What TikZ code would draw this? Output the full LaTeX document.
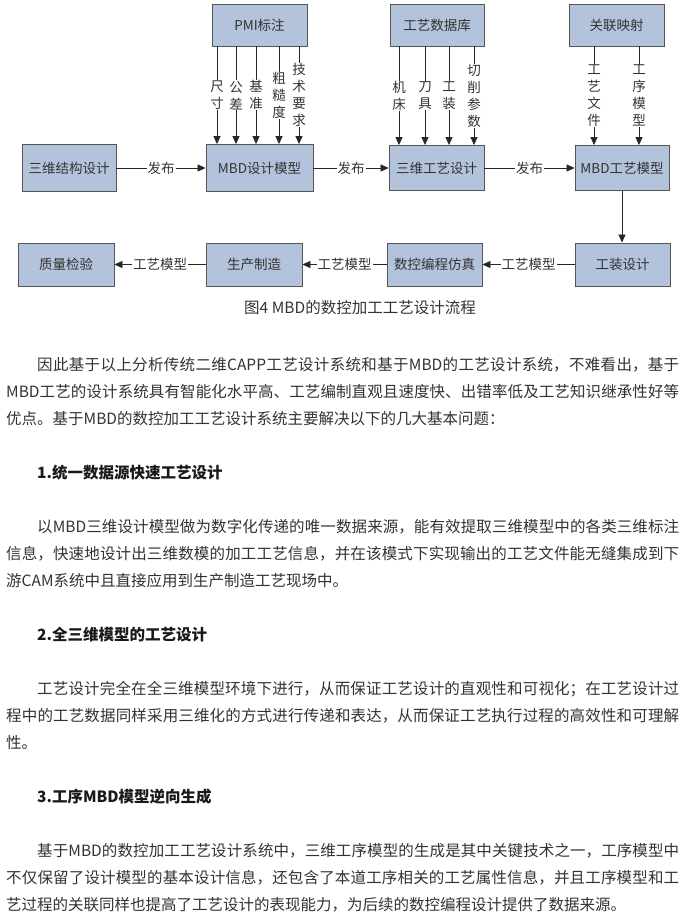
\documentclass[tikz,border=0pt]{standalone}
\usepackage{fontspec}
\setmainfont{Noto Sans CJK SC}
\usepackage{tikz}
\usetikzlibrary{arrows.meta, positioning, calc}
\definecolor{boxfill}{HTML}{B4C3DC}
\definecolor{boxedge}{HTML}{555555}
\definecolor{inkgray}{HTML}{333333}
\XeTeXlinebreaklocale "zh"
\XeTeXlinebreakskip=0pt plus 1pt minus 0.2pt

\begin{document}
\begin{tikzpicture}[x=1pt, y=-1pt,
    box/.style={draw=boxedge, fill=boxfill, line width=0.9pt, inner sep=0pt,
                text=inkgray, font=\fontsize{13.5}{17}\selectfont},
    arr/.style={draw=black!85, line width=0.8pt, -{Triangle[width=7pt, length=8pt]}},
    lbl/.style={fill=white, inner sep=1pt, text=inkgray, font=\fontsize{13.5}{17}\selectfont},
    vlbl/.style={lbl, align=center, inner sep=0.5pt},
    para/.style={anchor=base west, text width=673pt, align=justify, inner sep=0pt,
                 text=inkgray, font=\fontsize{15.5}{27}\selectfont},
    head/.style={anchor=base west, inner sep=0pt, text=black!90,
                 font=\fontsize{15.5}{27}\selectfont\bfseries}]
  \useasboundingbox[fill=white] (0,0) rectangle (687,923);

  \node[box, minimum width=95pt, minimum height=42pt] (pmi) at (259.5,25) {PMI标注};
  \node[box, minimum width=94pt, minimum height=42pt] (gysjk) at (437,25) {工艺数据库};
  \node[box, minimum width=95pt, minimum height=42pt] (glys) at (616.5,25) {关联映射};

  \node[box, minimum width=94pt, minimum height=47pt] (jgsj) at (69,168) {三维结构设计};
  \node[box, minimum width=107pt, minimum height=47pt] (sjmx) at (259.5,168) {MBD设计模型};
  \node[box, minimum width=95pt, minimum height=45pt] (swgy) at (436.5,168) {三维工艺设计};
  \node[box, minimum width=94pt, minimum height=45pt] (gymx) at (622,168) {MBD工艺模型};

  \node[box, minimum width=96pt, minimum height=43pt] (zljy) at (66,264.5) {质量检验};
  \node[box, minimum width=96pt, minimum height=43pt] (sczz) at (254,264.5) {生产制造};
  \node[box, minimum width=95pt, minimum height=43pt] (skbc) at (434.5,264.5) {数控编程仿真};
  \node[box, minimum width=95pt, minimum height=43pt] (gzsj) at (622.5,264.5) {工装设计};

  \foreach \x/\t in {217/{尺\\寸}, 236/{公\\差}, 256/{基\\准},
                     279/{粗\\糙\\度}, 299/{技\\术\\要\\求}}
    \draw[arr] (\x,0 |- pmi.south) -- node[vlbl] {\t} (\x,0 |- sjmx.north);
  \foreach \x/\t in {399/{机\\床}, 425/{刀\\具}, 449/{工\\装}, 474/{切\\削\\参\\数}}
    \draw[arr] (\x,0 |- gysjk.south) -- node[vlbl] {\t} (\x,0 |- swgy.north);
  \foreach \x/\t in {594/{工\\艺\\文\\件}, 639/{工\\序\\模\\型}}
    \draw[arr] (\x,0 |- glys.south) -- node[vlbl] {\t} (\x,0 |- gymx.north);

  \draw[arr] (jgsj) -- node[lbl] {发布} (sjmx);
  \draw[arr] (sjmx) -- node[lbl] {发布} (swgy);
  \draw[arr] (swgy) -- node[lbl] {发布} (gymx);
  \draw[arr] (gymx.south) -- (gymx.south |- gzsj.north);
  \draw[arr] (gzsj) -- node[lbl] {工艺模型} (skbc);
  \draw[arr] (skbc) -- node[lbl] {工艺模型} (sczz);
  \draw[arr] (sczz) -- node[lbl] {工艺模型} (zljy);

  \node[text=inkgray, inner sep=0pt, font=\fontsize{15.5}{18}\selectfont] (tuming) at (360,308)
    {图4 MBD的数控加工工艺设计流程};

  \node[para] (dl1) at (6,370) {\hspace*{2em}因此基于以上分析传统二维CAPP工艺设计系统和基于MBD的工艺设计系统，不难看出，基于\linebreak MBD工艺的设计系统具有智能化水平高、工艺编制直观且速度快、出错率低及工艺知识继承性好等\linebreak 优点。基于MBD的数控加工工艺设计系统主要解决以下的几大基本问题：};
  \node[head] (bt1) at (37,478) {1.统一数据源快速工艺设计};
  \node[para] (dl2) at (6,532) {\hspace*{2em}以MBD三维设计模型做为数字化传递的唯一数据来源，能有效提取三维模型中的各类三维标注\linebreak 信息，快速地设计出三维数模的加工工艺信息，并在该模式下实现输出的工艺文件能无缝集成到下\linebreak 游CAM系统中且直接应用到生产制造工艺现场中。};
  \node[head] (bt2) at (37,640) {2.全三维模型的工艺设计};
  \node[para] (dl3) at (6,694) {\hspace*{2em}工艺设计完全在全三维模型环境下进行，从而保证工艺设计的直观性和可视化；在工艺设计过\linebreak 程中的工艺数据同样采用三维化的方式进行传递和表达，从而保证工艺执行过程的高效性和可理解\linebreak 性。};
  \node[head] (bt3) at (37,802) {3.工序MBD模型逆向生成};
  \node[para] (dl4) at (6,856) {\hspace*{2em}基于MBD的数控加工工艺设计系统中，三维工序模型的生成是其中关键技术之一，工序模型中\linebreak 不仅保留了设计模型的基本设计信息，还包含了本道工序相关的工艺属性信息，并且工序模型和工\linebreak 艺过程的关联同样也提高了工艺设计的表现能力，为后续的数控编程设计提供了数据来源。};
\end{tikzpicture}
\end{document}
